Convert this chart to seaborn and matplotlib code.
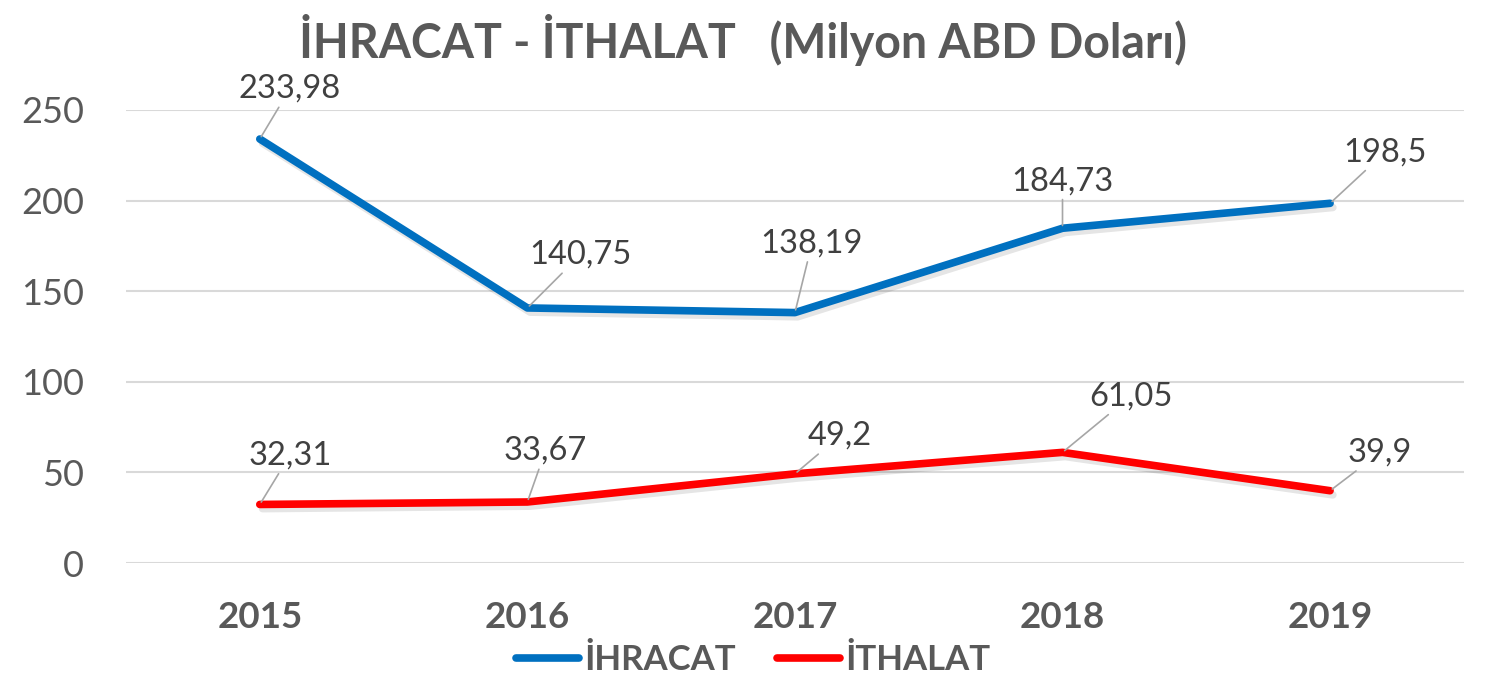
import matplotlib
matplotlib.use("Agg")
import matplotlib.pyplot as plt
import matplotlib.patheffects as pe
import seaborn as sns
import pandas as pd

years = ["2015", "2016", "2017", "2018", "2019"]
ihracat = [233.98, 140.75, 138.19, 184.73, 198.5]
ithalat = [32.31, 33.67, 49.2, 61.05, 39.9]
series_names = ["İHRACAT", "İTHALAT"]
yticks = [0, 50, 100, 150, 200, 250]
title = "İHRACAT - İTHALAT   (Milyon ABD Doları)"

# label offsets in pixels (x right, y up)
off_ihr = [(30, 50), (53, 53), (17, 69), (0, 47), (55, 51)]
off_ith = [(30, 49), (18, 51), (45, 38), (68, 56), (50, 38)]

sns.set_theme(style="white")
plt.rcParams["font.family"] = ["Lato", "DejaVu Sans"]

df = pd.DataFrame({
    "Yıl": years * 2,
    "Değer": ihracat + ithalat,
    "Seri": [series_names[0]] * len(years) + [series_names[1]] * len(years),
})

fig = plt.figure(figsize=(14.86, 6.84), dpi=100)
ax = fig.add_axes([0.0848, 0.1769, 0.9003, 0.6623])

palette = {series_names[0]: "#0070C0", series_names[1]: "#FF0000"}
sns.lineplot(data=df, x="Yıl", y="Değer", hue="Seri", palette=palette,
             linewidth=5.5, ax=ax, sort=False, legend=True)
for ln in ax.lines:
    ln.set_solid_capstyle("round")
    ln.set_path_effects([pe.SimpleLineShadow(offset=(2, -3), alpha=0.1, shadow_color="black"),
                         pe.Normal()])

ax.set_xlim(-0.5, 4.5)
ax.set_ylim(0, 250)
ax.set_yticks(yticks)
ax.set_yticklabels([str(t) for t in yticks])
ax.yaxis.grid(True, color="#d9d9d9", linewidth=1.5)
ax.set_axisbelow(True)
for s in ax.spines.values():
    s.set_visible(False)
ax.tick_params(axis="both", length=0)
ax.tick_params(axis="y", labelsize=26, labelcolor="#595959", pad=30)
ax.tick_params(axis="x", labelsize=26.5, labelcolor="#595959", pad=27)
for lab in ax.get_xticklabels():
    lab.set_fontweight("bold")
ax.set_xlabel("")
ax.set_ylabel("")

def fmt(v):
    return ("%g" % v).replace(".", ",")

for vals, offs in ((ihracat, off_ihr), (ithalat, off_ith)):
    for i, (v, o) in enumerate(zip(vals, offs)):
        ax.annotate(fmt(v), xy=(i, v), xytext=o, textcoords="offset pixels",
                    ha="center", va="center", fontsize=23.5, color="#404040",
                    arrowprops=dict(arrowstyle="-", color="#a6a6a6", lw=1.2,
                                    shrinkA=0, shrinkB=2))

fig.text(0.50, 0.942, title, ha="center", va="center", fontsize=33.5,
         fontweight="bold", color="#595959")

leg = ax.legend(loc="center", bbox_to_anchor=(0.507, 0.035),
                bbox_transform=fig.transFigure, ncol=2, frameon=False,
                handlelength=1.8, handletextpad=0.15, columnspacing=1.2,
                prop={"size": 25, "weight": "bold"})
for t in leg.get_texts():
    t.set_color("#595959")
for h in leg.get_lines():
    h.set_linewidth(5.5)
    h.set_solid_capstyle("round")
    h.set_path_effects([])

fig.savefig("out.png", dpi=100)
